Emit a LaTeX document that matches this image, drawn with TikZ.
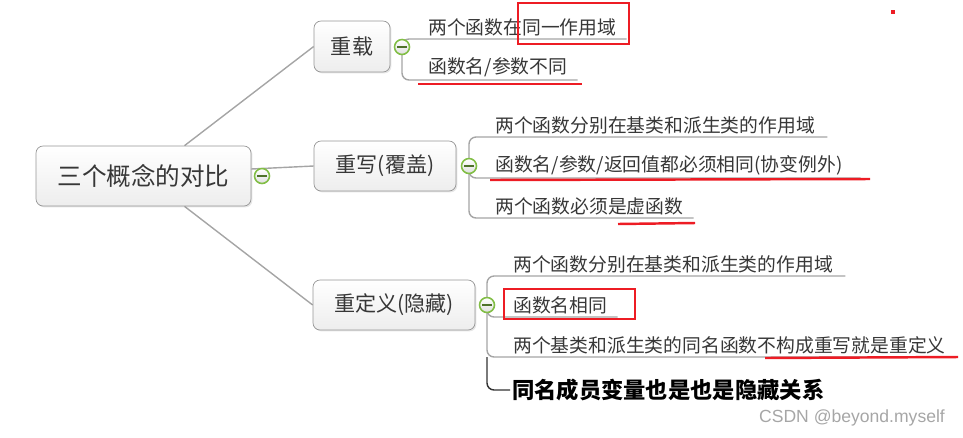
\documentclass[tikz,border=0pt]{standalone}
\usepackage{fontspec}
\setmainfont{Noto Sans CJK SC}
\newfontfamily\wmfont{Liberation Sans}
\usetikzlibrary{shadows, backgrounds}

\definecolor{linegray}{RGB}{165,165,165}
\definecolor{boxline}{RGB}{150,150,150}
\definecolor{textgray}{RGB}{55,55,55}
\definecolor{knobgreen}{RGB}{130,190,70}
\definecolor{markred}{RGB}{237,28,36}

\begin{document}
\begin{tikzpicture}[
  x=0.02cm, y=-0.02cm,
  topic/.style={draw=boxline, rounded corners=0.14cm, top color=white,
                bottom color=gray!14, text=textgray, minimum height=1cm,
                font=\fontsize{12}{14}\selectfont,
                drop shadow={opacity=0.2, shadow xshift=0.8pt, shadow yshift=-0.8pt}},
  knob/.style={circle, draw=knobgreen, line width=0.9pt, minimum size=0.3cm,
               inner sep=0pt, top color=white, bottom color=gray!25,
               path picture={\draw[knobgreen!60!black, line width=0.9pt]
                 ([xshift=-2.6pt]path picture bounding box.center) --
                 ([xshift=2.6pt]path picture bounding box.center);}},
  leaf/.style={anchor=south west, inner xsep=0pt, inner ysep=1.5pt,
               text=textgray, font=\fontsize{10.7}{12}\selectfont},
  stem/.style={draw=linegray, line width=0.8pt},
  branch/.style={draw=linegray, line width=0.8pt, rounded corners=4pt},
  redline/.style={draw=markred, line width=1.4pt},
  redbox/.style={draw=markred, line width=1.6pt},
]
\useasboundingbox (0,0) rectangle (963,437);

%% Root and topics
\node[topic, minimum width=4.3cm, minimum height=1.2cm,
      font=\fontsize{14}{16}\selectfont] (root) at (143.5,176) {三个概念的对比};
\node[topic, minimum width=1.52cm, minimum height=1.02cm] (zz) at (352,46.5) {重载};
\node[topic, minimum width=2.84cm] (cx) at (385,166) {重写(覆盖)};
\node[topic, minimum width=3.24cm] (cdy) at (394,305) {重定义(隐藏)};

%% Leaves
\node[leaf] (zz1) at (428,39) {两个函数在同一作用域};
\node[leaf] (zz2) at (428,80) {函数名/参数不同};

\node[leaf] (cx1) at (495,137) {两个函数分别在基类和派生类的作用域};
\node[leaf] (cx2) at (495,178) {函数名/参数/返回值都必须相同(协变例外)};
\node[leaf] (cx3) at (495,218) {两个函数必须是虚函数};

\node[leaf] (cdy1) at (513,276) {两个函数分别在基类和派生类的作用域};
\node[leaf] (cdy2) at (513,317) {函数名相同};
\node[leaf] (cdy3) at (513,357) {两个基类和派生类的同名函数不构成重写就是重定义};
\node[anchor=west, inner xsep=1pt, text=black,
      font=\bfseries\fontsize{12.7}{14}\selectfont] (cdy4) at (510,390) {同名成员变量也是也是隐藏关系};

%% Collapse knobs
\node[knob] (rootk) at (262,176) {};
\node[knob] (zzk) at (402,47) {};
\node[knob] (cxk) at (469,166) {};
\node[knob] (cdyk) at (487,305) {};

%% Connectors
\begin{scope}[on background layer]
\draw[stem] ([xshift=0.82cm]root.north) -- (zz.west);
\draw[stem] ([yshift=0.14cm]root.east) -- (cx.west);
\draw[stem] ([xshift=0.82cm]root.south) -- (cdy.west);

\draw[branch] ([xshift=0.2cm]zz1.south east) -- (zz1.south west) -| (zzk.center)
  |- (zz2.south west) -- ([xshift=0.2cm]zz2.south east);

\draw[branch] ([xshift=0.24cm]cx1.south east) -- (cx1.south west) -| (cxk.center)
  |- (cx3.south west) -- ([xshift=0.2cm]cx3.south east);
\draw[branch] (cxk.center) |- (cx2.south west) -- ([xshift=0.36cm]cx2.south east);

\draw[branch] ([xshift=0.24cm]cdy1.south east) -- (cdy1.south west) -| (cdyk.center)
  |- (cdy3.south west) -- ([xshift=0.06cm]cdy3.south east);
\draw[branch] (cdyk.center) |- (cdy2.south west) -- ([xshift=0.2cm]cdy2.south east);
\draw[branch, draw=black!80] (cdy3.south west -| cdyk.center) |- (cdy4.west);
\end{scope}

%% Red marks
\draw[redbox] (518,3) rectangle (629,44);
\draw[redline] (418,84) -- (582,84);
\fill[markred] (891,10) rectangle (895,14);
\draw[redline] (490,180) -- (870,179);
\draw[redline] (618,224) -- (695,223);
\draw[redbox] (504,289) rectangle (635,319);
\draw[redline] (765,358) -- (958,357);

%% Watermark
\node[font=\wmfont\fontsize{10}{12}\selectfont, text=gray!70] (wm) at (852,418) {CSDN @beyond.myself};

\end{tikzpicture}
\end{document}
